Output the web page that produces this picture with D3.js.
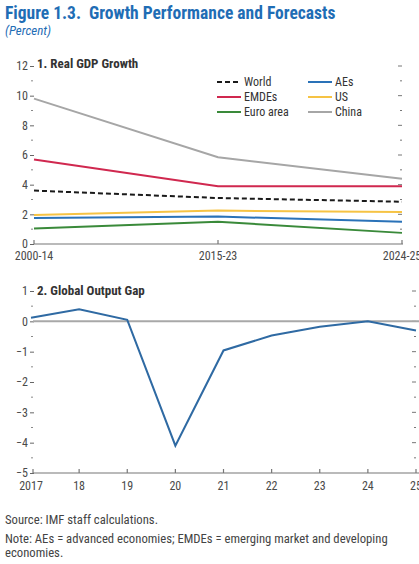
<!DOCTYPE html>
<html>
<head>
<meta charset="utf-8">
<script src="https://cdn.jsdelivr.net/npm/d3@7"></script>
<style>
  html, body { margin: 0; padding: 0; background: #fff; }
  svg { display: block; }
</style>
</head>
<body>
<svg id="chart" width="419" height="564"></svg>
<script>
// Panel 1: Real GDP growth by period
const periods = ["2000-14", "2015-23", "2024-25"];
const world   = [3.6, 3.1, 2.85];
const emdes   = [5.7, 3.9, 3.9];
const euro    = [1.05, 1.5, 0.75];
const aes     = [1.75, 1.85, 1.5];
const us      = [1.95, 2.25, 2.15];
const china   = [9.8, 5.85, 4.4];
const gdpTicks = [0, 2, 4, 6, 8, 10, 12];

// Panel 2: Global output gap
const gapYears  = [2017, 2018, 2019, 2020, 2021, 2022, 2023, 2024, 2025];
const gapLabels = ["2017", "18", "19", "20", "21", "22", "23", "24", "25"];
const gapValues = [0.12, 0.4, 0.05, -4.1, -0.96, -0.47, -0.18, 0.0, -0.3];
const gapTicks  = [-5, -4, -3, -2, -1, 0, 1];

const svg = d3.select("#chart");
const FONT = '"Liberation Sans Narrow", "Arial Narrow", "Roboto Condensed", "DejaVu Sans Condensed", sans-serif';
const blueTitle = "#1f6db5";
const tickColor = "#4a4a4a";

// Headings
svg.append("text").attr("x", 5).attr("y", 19)
  .attr("font-family", FONT).attr("font-weight", "bold").attr("font-size", 17.5)
  .attr("fill", blueTitle).attr("xml:space", "preserve")
  .text("Figure 1.3.  Growth Performance and Forecasts");
svg.append("text").attr("x", 5).attr("y", 35)
  .attr("font-family", FONT).attr("font-style", "italic").attr("font-size", 13)
  .attr("fill", blueTitle).text("(Percent)");

function leftAxis(g, y, ticks, minorTicks, fmt) {
  const ax = g.append("g").attr("transform", "translate(34,0)")
    .call(d3.axisLeft(y).tickValues(ticks).tickSize(4).tickPadding(2).tickFormat(fmt));
  ax.select(".domain").remove();
  ax.selectAll("line").attr("stroke", "#666");
  ax.selectAll("text").attr("font-family", FONT).attr("font-size", 12).attr("fill", tickColor);
  g.selectAll(null).data(minorTicks).join("line")
    .attr("x1", 31).attr("x2", 33).attr("y1", d => y(d)).attr("y2", d => y(d))
    .attr("stroke", "#888").attr("stroke-width", 1);
}
function rightTicks(g, y, xPos, vals, majorSet) {
  g.selectAll(null).data(vals).join("line")
    .attr("x1", d => majorSet.includes(d) ? xPos - 4 : xPos - 2)
    .attr("x2", xPos)
    .attr("y1", d => y(d)).attr("y2", d => y(d))
    .attr("stroke", "#777").attr("stroke-width", 1);
}

// ---------- Panel 1 ----------
const p1 = svg.append("g");
const x1 = d3.scalePoint().domain(periods).range([34, 402]);
const y1 = d3.scaleLinear().domain([0, 12]).range([244, 66]);

leftAxis(p1, y1, gdpTicks, d3.range(1, 12, 2), d3.format("d"));
rightTicks(p1, y1, 402, d3.range(1, 13), gdpTicks);

// x axis line with inward ticks
p1.append("line").attr("x1", 34).attr("x2", 403).attr("y1", y1(0)).attr("y2", y1(0))
  .attr("stroke", "#777").attr("stroke-width", 1.2);
p1.selectAll(null).data(periods).join("line")
  .attr("x1", d => x1(d)).attr("x2", d => x1(d))
  .attr("y1", y1(0)).attr("y2", y1(0) - 4)
  .attr("stroke", "#777").attr("stroke-width", 1.2);
p1.selectAll(null).data(periods).join("text")
  .attr("x", d => x1(d)).attr("y", 260).attr("text-anchor", "middle")
  .attr("font-family", FONT).attr("font-size", 12).attr("fill", tickColor)
  .text(d => d);

p1.append("text").attr("x", 37).attr("y", 68)
  .attr("font-family", FONT).attr("font-weight", "bold").attr("font-size", 13)
  .attr("fill", "#333").text("1. Real GDP Growth");

const series = [
  { name: "China",     values: china, color: "#a6a6a6", dash: null },
  { name: "EMDEs",     values: emdes, color: "#d0284f", dash: null },
  { name: "World",     values: world, color: "#1a1a1a", dash: "5,3" },
  { name: "US",        values: us,    color: "#f6c344", dash: null },
  { name: "AEs",       values: aes,   color: "#2a72b8", dash: null },
  { name: "Euro area", values: euro,  color: "#3a8a3a", dash: null }
];
const line1 = d3.line().x((d, i) => x1(periods[i])).y(d => y1(d));
p1.selectAll(null).data(series).join("path")
  .attr("d", d => line1(d.values))
  .attr("fill", "none").attr("stroke", d => d.color)
  .attr("stroke-width", 2).attr("stroke-dasharray", d => d.dash);

// Legend
const legendItems = [
  { name: "World",     col: 0, row: 0 },
  { name: "AEs",       col: 1, row: 0 },
  { name: "EMDEs",     col: 0, row: 1 },
  { name: "US",        col: 1, row: 1 },
  { name: "Euro area", col: 0, row: 2 },
  { name: "China",     col: 1, row: 2 }
];
const lg = p1.append("g");
legendItems.forEach(it => {
  const s = series.find(d => d.name === it.name);
  const lx = it.col === 0 ? 217 : 308;
  const ly = 82 + it.row * 15;
  lg.append("line").attr("x1", lx).attr("x2", lx + 24).attr("y1", ly).attr("y2", ly)
    .attr("stroke", s.color).attr("stroke-width", 2).attr("stroke-dasharray", s.dash);
  lg.append("text").attr("x", lx + 27).attr("y", ly + 4)
    .attr("font-family", FONT).attr("font-size", 12).attr("fill", "#333").text(it.name);
});

// ---------- Panel 2 ----------
const p2 = svg.append("g");
const x2 = d3.scalePoint().domain(gapYears).range([31, 416]);
const y2 = d3.scaleLinear().domain([-5, 1]).range([473, 291]);

leftAxis(p2, y2, gapTicks, d3.range(-4.5, 1, 1), d => d < 0 ? "\u2212" + Math.abs(d) : String(d));
rightTicks(p2, y2, 416, d3.range(-4.5, 1.01, 0.5), gapTicks);

// zero line
p2.append("line").attr("x1", 33).attr("x2", 419).attr("y1", y2(0)).attr("y2", y2(0))
  .attr("stroke", "#a8a8a8").attr("stroke-width", 2);

p2.append("line").attr("x1", 33).attr("x2", 419).attr("y1", y2(-5)).attr("y2", y2(-5))
  .attr("stroke", "#777").attr("stroke-width", 1.2);
p2.selectAll(null).data(gapYears).join("line")
  .attr("x1", d => Math.max(x2(d), 33)).attr("x2", d => Math.max(x2(d), 33))
  .attr("y1", y2(-5)).attr("y2", y2(-5) - 4)
  .attr("stroke", "#777").attr("stroke-width", 1.2);
p2.selectAll(null).data(gapYears).join("text")
  .attr("x", d => x2(d)).attr("y", 490).attr("text-anchor", "middle")
  .attr("font-family", FONT).attr("font-size", 12).attr("fill", tickColor)
  .text((d, i) => gapLabels[i]);

p2.append("text").attr("x", 37).attr("y", 295)
  .attr("font-family", FONT).attr("font-weight", "bold").attr("font-size", 13)
  .attr("fill", "#333").text("2. Global Output Gap");

const line2 = d3.line().x((d, i) => x2(gapYears[i])).y(d => y2(d));
p2.append("path").attr("d", line2(gapValues))
  .attr("fill", "none").attr("stroke", "#2f6aa3").attr("stroke-width", 2)
  .attr("stroke-linejoin", "miter");

// Footnotes
const notes = [
  { y: 524, t: "Source: IMF staff calculations." },
  { y: 543, t: "Note: AEs = advanced economies; EMDEs = emerging market and developing" },
  { y: 557, t: "economies." }
];
svg.selectAll(null).data(notes).join("text")
  .attr("x", 5).attr("y", d => d.y)
  .attr("font-family", FONT).attr("font-size", 12.7).attr("fill", "#444")
  .text(d => d.t);
</script>
</body>
</html>
